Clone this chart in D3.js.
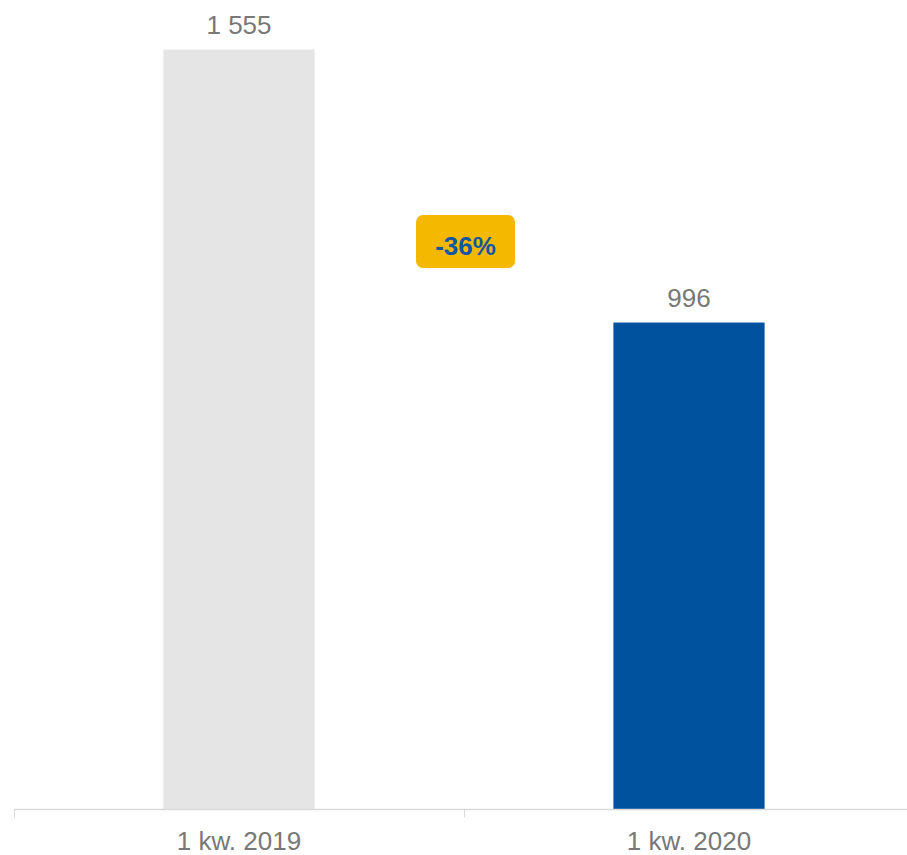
<!DOCTYPE html>
<html><head><meta charset="utf-8">
<script src="https://cdn.jsdelivr.net/npm/d3@7"></script>
<style>html,body{margin:0;padding:0;background:#fff}svg{display:block}</style>
</head><body>
<script>
const categories = ["1 kw. 2019", "1 kw. 2020"];
const values = [1555, 996];
const valueLabels = ["1 555", "996"];
const changeLabel = "-36%";

const W = 907, H = 855;
const svg = d3.select("body").append("svg").attr("width", W).attr("height", H);

const x = d3.scaleBand().domain(categories).range([14, 914]).padding(0);
const y = d3.scaleLinear().domain([0, 1555]).range([809, 49.5]);
const barW = x.bandwidth() * 0.336;
const colors = ["#E5E5E5", "#00529F"];
const font = "Liberation Sans, Arial, sans-serif";

svg.selectAll("rect.bar").data(values).join("rect")
  .attr("class", "bar")
  .attr("x", (d, i) => x(categories[i]) + x.bandwidth() / 2 - barW / 2)
  .attr("y", d => y(d))
  .attr("width", barW)
  .attr("height", d => y(0) - y(d))
  .attr("fill", (d, i) => colors[i]);

svg.selectAll("text.vl").data(values).join("text")
  .attr("class", "vl")
  .attr("x", (d, i) => x(categories[i]) + x.bandwidth() / 2)
  .attr("y", d => y(d) - 16)
  .attr("text-anchor", "middle")
  .attr("font-family", font)
  .attr("font-size", 26)
  .attr("fill", "#787878")
  .text((d, i) => valueLabels[i]);

const axis = d3.axisBottom(x).tickSize(0).tickFormat(d => d);
const g = svg.append("g").attr("transform", "translate(0,809.5)").call(axis);
g.select(".domain").remove();
g.append("line").attr("x1", 14).attr("x2", W).attr("y1", 0).attr("y2", 0)
  .attr("stroke", "#D9D9D9").attr("stroke-width", 1.5);
const edges = [14, 464, 914];
g.selectAll("line.tk").data(edges).join("line").attr("class", "tk")
  .attr("x1", d => d + 0.5).attr("x2", d => d + 0.5).attr("y1", 0).attr("y2", 8)
  .attr("stroke", "#D9D9D9").attr("stroke-width", 1);
g.selectAll(".tick text")
  .attr("y", 40.5).attr("dy", 0)
  .attr("font-family", font)
  .attr("font-size", 26)
  .attr("fill", "#787878");

// change badge
const bx = 416, by = 215, bw = 99, bh = 53;
svg.append("rect").attr("x", bx).attr("y", by).attr("width", bw).attr("height", bh)
  .attr("rx", 7).attr("fill", "#F5B800");
svg.append("text").attr("x", bx + bw / 2).attr("y", by + bh / 2 + 13.5)
  .attr("text-anchor", "middle")
  .attr("font-family", font)
  .attr("font-weight", "bold").attr("font-size", 26)
  .attr("fill", "#0F56A3")
  .text(changeLabel);
</script>
</body></html>
